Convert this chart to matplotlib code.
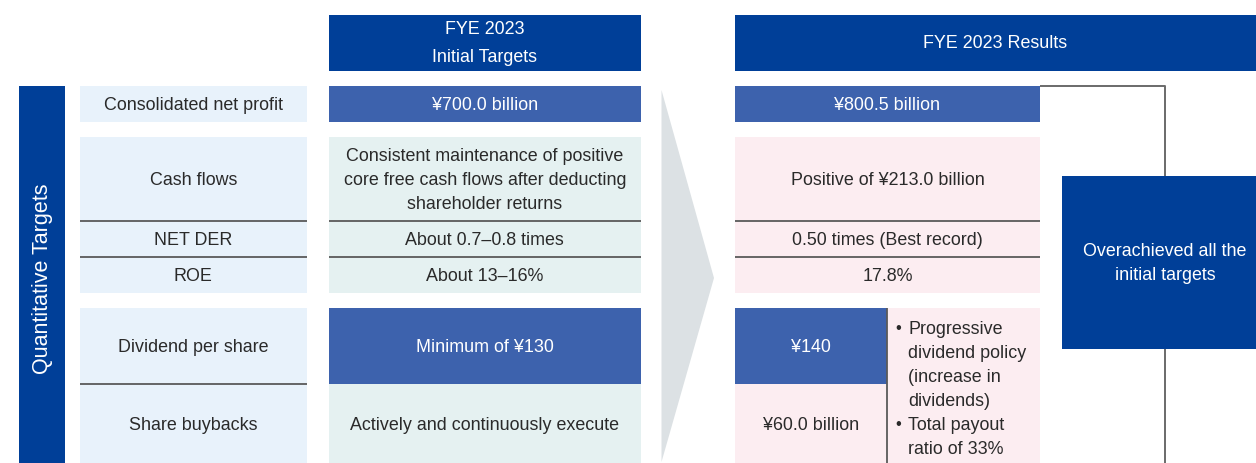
import matplotlib.pyplot as plt
from matplotlib.patches import Rectangle, Polygon

plt.rcParams['font.family'] = ['Liberation Sans', 'DejaVu Sans']

# table content
row_labels = ["Consolidated net profit", "Cash flows", "NET DER", "ROE",
              "Dividend per share", "Share buybacks"]
initial_targets = ["¥700.0 billion",
                   "Consistent maintenance of positive\ncore free cash flows after deducting\nshareholder returns",
                   "About 0.7–0.8 times", "About 13–16%",
                   "Minimum of ¥130", "Actively and continuously execute"]
results = ["¥800.5 billion", "Positive of ¥213.0 billion",
           "0.50 times (Best record)", "17.8%", "¥140", "¥60.0 billion"]
policy_lines = [("•", "Progressive"), ("", "dividend policy"), ("", "(increase in"),
                ("", "dividends)"), ("•", "Total payout"), ("", "ratio of 33%")]
header_initial = "FYE 2023\nInitial Targets"
header_results = "FYE 2023 Results"
side_title = "Quantitative Targets"
summary = "Overachieved all the\ninitial targets"

DARK = "#003f98"
MID = "#3d62ad"
LBLUE = "#e8f2fb"
TEAL = "#e5f1f1"
PINK = "#fcedf1"
GRAY = "#dce1e4"
LINE = "#5a5a5a"
TXT = "#2a2a2a"
FS = 12.9
LS = 1.52

# layout (pixels)
row_top = [86, 137, 221, 257, 308, 384]
row_bot = [122, 221, 257, 293, 384, 463]
lab_x = (79.5, 307)
ini_x = (329, 640.5)
res_x = (735, 1040)
res_split = 887


def box(ax, x0, x1, y0, y1, color, z=1):
    ax.add_patch(Rectangle((x0, y0), x1 - x0, y1 - y0, facecolor=color,
                           edgecolor='none', zorder=z))


def hline(ax, x0, x1, y):
    ax.plot([x0, x1], [y, y], color=LINE, lw=1.3, zorder=3, solid_capstyle='butt')


def label(ax, x, y, s, color=TXT, **kw):
    ax.text(x, y + 1.5, s, ha=kw.pop('ha', 'center'), va='center', color=color,
            fontsize=kw.pop('fontsize', FS), linespacing=kw.pop('linespacing', LS),
            zorder=4, **kw)


def main():
    fig = plt.figure(figsize=(12.56, 4.63), dpi=100)
    ax = fig.add_axes([0, 0, 1, 1])
    ax.set_xlim(0, 1256)
    ax.set_ylim(463, 0)
    ax.axis('off')

    # headers
    box(ax, ini_x[0], ini_x[1], 15, 70.5, DARK)
    label(ax, sum(ini_x) / 2, 42, header_initial, color='white', linespacing=1.78)
    box(ax, res_x[0], 1256, 15, 70.5, DARK)
    label(ax, (res_x[0] + 1256) / 2, 42, header_results, color='white')

    # side bar
    box(ax, 19, 64.5, 86, 463, DARK)
    ax.text(43, 279, side_title, rotation=90, ha='center', va='center',
            color='white', fontsize=15.5)

    # arrow
    ax.add_patch(Polygon([(661.5, 90), (714, 278), (661.5, 462)], closed=True,
                         facecolor=GRAY, edgecolor='none', zorder=1))

    # label + initial columns
    for i, (lab, ini) in enumerate(zip(row_labels, initial_targets)):
        y0, y1 = row_top[i], row_bot[i]
        yc = (y0 + y1) / 2
        box(ax, lab_x[0], lab_x[1], y0, y1, LBLUE)
        label(ax, sum(lab_x) / 2, yc, lab)
        hi = i in (0, 4)
        box(ax, ini_x[0], ini_x[1], y0, y1, MID if hi else TEAL, z=2 if hi else 1)
        label(ax, sum(ini_x) / 2, yc, ini, color='white' if hi else TXT)

    for y in (221, 257, 384):
        hline(ax, lab_x[0], lab_x[1], y)
    for y in (221, 257):
        hline(ax, ini_x[0], ini_x[1], y)

    # results column
    for i in range(4):
        y0, y1 = row_top[i], row_bot[i]
        hi = i == 0
        box(ax, res_x[0], res_x[1], y0, y1, MID if hi else PINK)
        label(ax, sum(res_x) / 2, (y0 + y1) / 2, results[i],
              color='white' if hi else TXT)
    for y in (221, 257):
        hline(ax, res_x[0], res_x[1], y)

    box(ax, res_x[0], res_x[1], row_top[4], row_bot[5], PINK)
    box(ax, res_x[0], res_split, row_top[4], row_bot[4], MID, z=2)
    label(ax, (res_x[0] + res_split) / 2, (row_top[4] + row_bot[4]) / 2, results[4],
          color='white')
    label(ax, (res_x[0] + res_split) / 2, (row_top[5] + row_bot[5]) / 2, results[5])
    ax.plot([res_split, res_split], [row_top[4], row_bot[5]], color=LINE, lw=1.3,
            zorder=3, solid_capstyle='butt')

    for k, (bullet, line) in enumerate(policy_lines):
        y = 328 + 24 * k
        if bullet:
            label(ax, 898, y - 1, bullet, fontsize=FS - 1)
        label(ax, 908, y, line, ha='left')

    # bracket and summary box
    ax.plot([res_x[1], 1164.5, 1164.5], [86, 86, 463], color='#6a6a6a', lw=1.4,
            zorder=1, solid_capstyle='butt')
    box(ax, 1062, 1256, 176, 349, DARK, z=2)
    label(ax, 1165, 262, summary, color='white')

    fig.savefig("out.png", dpi=100)


if __name__ == "__main__":
    main()
